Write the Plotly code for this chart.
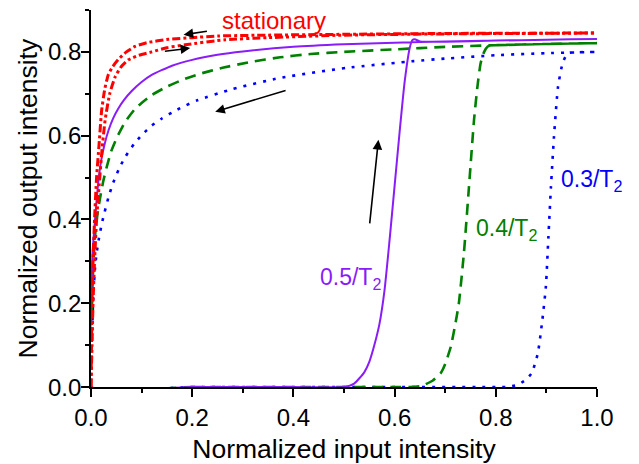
import plotly.graph_objects as go

# stationary curves (two sweep directions)
stat_up_x = [0, 0.001, 0.002, 0.004, 0.007, 0.011, 0.016, 0.021, 0.027, 0.034, 0.043, 0.054,
             0.07, 0.087, 0.11, 0.153, 0.2, 0.252, 0.35, 0.5, 0.7, 1.0]
stat_up_y = [0, 0.1, 0.2, 0.3, 0.4, 0.5, 0.58, 0.66, 0.71, 0.745, 0.765, 0.782,
             0.80, 0.813, 0.822, 0.83, 0.834, 0.838, 0.84, 0.842, 0.844, 0.845]
stat_dn_x = [0, 0.002, 0.004, 0.007, 0.011, 0.016, 0.022, 0.028, 0.037, 0.048, 0.06, 0.074,
             0.095, 0.12, 0.15, 0.186, 0.265, 0.35, 0.5, 0.7, 1.0]
stat_dn_y = [0, 0.1, 0.2, 0.3, 0.4, 0.48, 0.57, 0.638, 0.70, 0.741, 0.765, 0.781,
             0.792, 0.80, 0.81, 0.817, 0.829, 0.834, 0.84, 0.843, 0.845]

# 0.5/T2 : forward sweep then backward sweep
p5_fwd_x = [0, 0.2, 0.4, 0.5, 0.52, 0.54, 0.55, 0.56, 0.57, 0.58, 0.59, 0.60, 0.61, 0.62,
            0.63, 0.635, 0.64, 0.65, 0.7, 0.8, 0.9, 1.0]
p5_fwd_y = [0, 0, 0, 0, 0.008, 0.035, 0.06, 0.10, 0.15, 0.23, 0.35, 0.48, 0.61, 0.73,
            0.81, 0.828, 0.83, 0.825, 0.824, 0.827, 0.829, 0.831]
p5_bwd_x = [0.9, 0.8, 0.7, 0.6, 0.5, 0.4, 0.3, 0.25, 0.2, 0.16, 0.12, 0.1, 0.08, 0.065,
            0.054, 0.044, 0.035, 0.027, 0.02, 0.0145, 0.01, 0.006, 0.003, 0.0015, 0.0]
p5_bwd_y = [0.829, 0.827, 0.825, 0.822, 0.818, 0.812, 0.801, 0.793, 0.781, 0.767, 0.745,
            0.728, 0.706, 0.685, 0.665, 0.642, 0.614, 0.58, 0.54, 0.49, 0.43, 0.37, 0.32, 0.25, 0.0]

# 0.4/T2
p4_fwd_x = [0, 0.2, 0.4, 0.6, 0.63, 0.65, 0.658, 0.675, 0.691, 0.70, 0.711, 0.72, 0.727, 0.737,
            0.747, 0.757, 0.764, 0.770, 0.777, 0.784, 0.79, 0.8, 0.9, 1.0]
p4_fwd_y = [0, 0, 0, 0, 0, 0.002, 0.005, 0.015, 0.033, 0.055, 0.096, 0.15, 0.20, 0.32,
            0.478, 0.638, 0.72, 0.773, 0.80, 0.813, 0.815, 0.816, 0.819, 0.821]
p4_bwd_x = [0.9, 0.8, 0.7, 0.6, 0.5, 0.434, 0.374, 0.315, 0.26, 0.216, 0.186, 0.15,
            0.12, 0.1, 0.087, 0.067, 0.051, 0.04, 0.031, 0.024, 0.018, 0.013, 0.009, 0.0066,
            0.004, 0.002, 0.0]
p4_bwd_y = [0.819, 0.816, 0.812, 0.806, 0.800, 0.795, 0.787, 0.776, 0.762, 0.748, 0.736,
            0.717, 0.697, 0.678, 0.664, 0.632, 0.595, 0.563, 0.525, 0.49, 0.452, 0.415, 0.375,
            0.335, 0.28, 0.2, 0.0]

# 0.3/T2
p3_fwd_x = [0, 0.2, 0.4, 0.6, 0.8, 0.82, 0.843, 0.859, 0.871, 0.883, 0.892, 0.899, 0.904,
            0.909, 0.915, 0.923, 0.932, 0.942, 0.96, 1.0]
p3_fwd_y = [0, 0, 0, 0, 0, 0, 0.005, 0.017, 0.033, 0.08, 0.16, 0.24, 0.359,
            0.478, 0.598, 0.717, 0.773, 0.797, 0.799, 0.80]
p3_bwd_x = [0.9, 0.8, 0.7, 0.638, 0.506, 0.374, 0.279, 0.209, 0.17, 0.14, 0.12, 0.1,
            0.085, 0.067, 0.055, 0.044, 0.035, 0.027, 0.021, 0.015, 0.011, 0.008, 0.0046,
            0.002, 0.0]
p3_bwd_y = [0.797, 0.792, 0.784, 0.778, 0.762, 0.738, 0.711, 0.684, 0.662, 0.641, 0.624,
            0.601, 0.58, 0.548, 0.52, 0.488, 0.455, 0.418, 0.388, 0.35, 0.319, 0.285, 0.22,
            0.12, 0.0]

y_tick_vals = [0.0, 0.2, 0.4, 0.6, 0.8]
y_tick_text = ['0.0', '0.2', '0.4', '0.6', '0.8']

FONT = "Arial, Liberation Sans, sans-serif"

fig = go.Figure()
fig.add_trace(go.Scatter(x=p3_fwd_x + p3_bwd_x, y=p3_fwd_y + p3_bwd_y, mode='lines',
                         line=dict(color='#0000ff', width=2.6, dash='3px,7px',
                                   shape='spline', smoothing=0.5)))
fig.add_trace(go.Scatter(x=p4_fwd_x + p4_bwd_x, y=p4_fwd_y + p4_bwd_y, mode='lines',
                         line=dict(color='#008000', width=2.6, dash='11px,7px',
                                   shape='spline', smoothing=0.5)))
fig.add_trace(go.Scatter(x=p5_fwd_x + p5_bwd_x, y=p5_fwd_y + p5_bwd_y, mode='lines',
                         line=dict(color='#8a1cf7', width=2, shape='spline', smoothing=0.5)))
fig.add_trace(go.Scatter(x=stat_dn_x, y=stat_dn_y, mode='lines',
                         line=dict(color='#ff0000', width=3, dash='8px,3px,3px,3px,3px,3px',
                                   shape='spline', smoothing=0.5)))
fig.add_trace(go.Scatter(x=stat_up_x, y=stat_up_y, mode='lines',
                         line=dict(color='#ff0000', width=3, dash='8px,3px,3px,3px',
                                   shape='spline', smoothing=0.5)))

# direction arrows
for hx, hy, tx, ty in [(0.183, 0.841, 0.232, 0.850), (0.196, 0.809, 0.143, 0.801),
                       (0.2455, 0.657, 0.3875, 0.709), (0.568, 0.590, 0.5505, 0.387)]:
    fig.add_annotation(x=hx, y=hy, ax=tx, ay=ty, xref='x', yref='y', axref='x', ayref='y',
                       text='', showarrow=True, arrowhead=2, arrowsize=1.2, arrowwidth=1.6,
                       arrowcolor='black')

labels = [("stationary", 0.2554, 0.876, '#ff0000', 24),
          ("0.5/T<sub>2</sub>", 0.4495, 0.258, '#8a1cf7', 23),
          ("0.4/T<sub>2</sub>", 0.756, 0.375, '#008000', 23),
          ("0.3/T<sub>2</sub>", 0.924, 0.492, '#0000ff', 23)]
for txt, lx, ly, col, sz in labels:
    fig.add_annotation(x=lx, y=ly, xref='x', yref='y', text=txt, showarrow=False,
                       xanchor='left', yanchor='middle',
                       font=dict(family=FONT, size=sz, color=col))

# y tick labels sit closer to the axis than plotly puts them
for v, t in zip(y_tick_vals, y_tick_text):
    fig.add_annotation(x=0, y=v, xref='paper', yref='y', text=t, showarrow=False,
                       xanchor='right', yanchor='middle', xshift=-8,
                       font=dict(family=FONT, size=24, color='black'))
fig.add_annotation(x=0, y=0.5, xref='paper', yref='paper', text='Normalized output intensity',
                   showarrow=False, textangle=-90, xanchor='center', yanchor='middle',
                   xshift=-64, font=dict(family=FONT, size=26.5, color='black'))

fig.update_xaxes(range=[0, 1.0], dtick=0.2, tickformat='.1f',
                 showline=True, linecolor='black', linewidth=1.6, showgrid=False,
                 zeroline=False, ticks='outside', ticklen=8, tickwidth=1.6, tickcolor='black',
                 tickfont=dict(family=FONT, size=24, color='black'),
                 layer='below traces', automargin=False,
                 minor=dict(ticks='outside', ticklen=4, dtick=0.1, tickcolor='black', tickwidth=1.6),
                 title=dict(text='Normalized input intensity',
                            font=dict(family=FONT, size=26.5, color='black')))
fig.update_yaxes(range=[0, 0.9], tickvals=y_tick_vals, showticklabels=False,
                 showline=True, linecolor='black', linewidth=1.6, showgrid=False,
                 zeroline=False, ticks='outside', ticklen=8, tickwidth=1.6, tickcolor='black',
                 layer='below traces', automargin=False,
                 minor=dict(ticks='outside', ticklen=4, dtick=0.1, tickcolor='black', tickwidth=1.6))

# page body keeps an 8px margin, so the figure is drawn 8px smaller
fig.update_layout(width=631, height=456, showlegend=False,
                  plot_bgcolor='white', paper_bgcolor='white',
                  margin=dict(l=83, r=42, t=2, b=77))

fig.write_html("out.html")
